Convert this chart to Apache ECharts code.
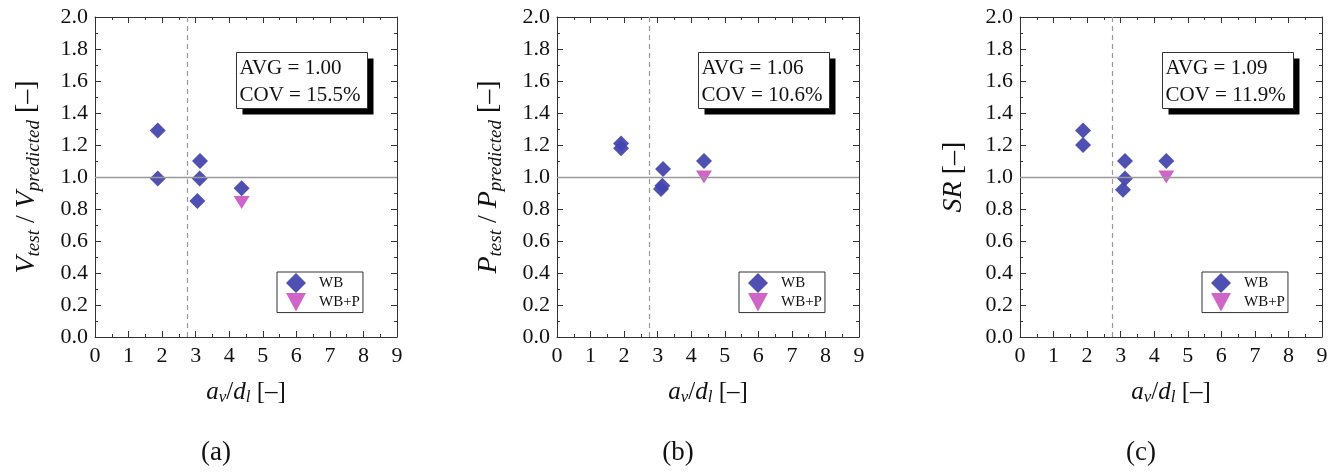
<!DOCTYPE html>
<html>
<head>
<meta charset="utf-8">
<script src="https://cdn.jsdelivr.net/npm/echarts@6/dist/echarts.min.js"></script>
<style>
html,body{margin:0;padding:0;background:#fff;}
#chart{width:1339px;height:474px;}
</style>
</head>
<body>
<div id="chart"></div>
<script>
// ---------- data ----------
const panelLabels = ['(a)', '(b)', '(c)'];
const seriesNames = ['WB', 'WB+P'];
const xRange = [0, 9];
const xInterval = 1;
const yRange = [0, 2];
const yInterval = 0.2;
const refLineY = 1.0;
const limitLineX = 2.75;

const wbA = [[1.87, 1.29], [1.87, 0.99], [3.13, 1.10], [3.12, 0.99], [3.05, 0.85], [4.37, 0.93]];
const wbpA = [[4.37, 0.84]];
const wbB = [[1.91, 1.21], [1.91, 1.18], [3.16, 1.05], [3.10, 0.925], [3.14, 0.945], [4.38, 1.10]];
const wbpB = [[4.38, 1.00]];
const wbC = [[1.88, 1.29], [1.88, 1.20], [3.13, 1.10], [3.13, 0.99], [3.07, 0.92], [4.36, 1.10]];
const wbpC = [[4.36, 1.00]];

const avgVals = ['1.00', '1.06', '1.09'];
const covVals = ['15.5%', '10.6%', '11.9%'];

// ---------- layout / style ----------
const FONT = 'Liberation Serif';
const gridLefts = [95, 557, 1020];
const gridWidth = 302;
const gridTop = 17;
const gridHeight = 320;
const statBoxX = [236, 698, 1162];
const legendLefts = [277, 739, 1202];
const labelCenters = [216, 678, 1141];
const blue = '#4244AC';
const pink = '#CC5EC4';
const triPath = 'path://M0,0L16,0L8,13Z';

const wbData = [wbA, wbB, wbC];
const wbpData = [wbpA, wbpB, wbpC];

const yNameRich = {
  m: {fontFamily: FONT, fontStyle: 'italic', fontSize: 28, color: '#111'},
  s: {fontFamily: FONT, fontStyle: 'italic', fontSize: 19, color: '#111', padding: [14, 0, 0, 0]},
  n: {fontFamily: FONT, fontSize: 28, color: '#111'}
};
const yNames = [
  '{m|V}{s|test}{n| / }{m|V}{s|predicted}{n| [–]}',
  '{m|P}{s|test}{n| / }{m|P}{s|predicted}{n| [–]}',
  '{m|SR}{n| [–]}'
];
const xNameRich = {
  m: {fontFamily: FONT, fontStyle: 'italic', fontSize: 25, color: '#111'},
  s: {fontFamily: FONT, fontStyle: 'italic', fontSize: 17, color: '#111', padding: [11, 0, 0, 0]},
  n: {fontFamily: FONT, fontSize: 25, color: '#111'}
};
const xName = '{m|a}{s|v}{n|/}{m|d}{s|l}{n| [–]}';

const axisLineStyle = {color: '#333', width: 1};

const grids = [], xAxes = [], yAxes = [], series = [], legends = [], graphics = [];

for (let i = 0; i < 3; i++) {
  grids.push({left: gridLefts[i], top: gridTop, width: gridWidth, height: gridHeight});
  const baseX = {
    type: 'value', gridIndex: i, min: xRange[0], max: xRange[1], interval: xInterval,
    axisLine: {show: true, onZero: false, lineStyle: axisLineStyle},
    axisTick: {show: true, inside: true, length: 6, lineStyle: axisLineStyle},
    minorTick: {show: true, splitNumber: 2, length: 3, lineStyle: axisLineStyle},
    splitLine: {show: false}
  };
  xAxes.push(Object.assign({}, baseX, {
    position: 'bottom',
    axisLabel: {show: true, fontFamily: FONT, fontSize: 22, color: '#111', margin: 8},
    name: xName, nameLocation: 'middle', nameGap: 41,
    nameTextStyle: {rich: xNameRich}
  }));
  xAxes.push(Object.assign({}, baseX, {position: 'top', axisLabel: {show: false}}));
  const baseY = {
    type: 'value', gridIndex: i, min: yRange[0], max: yRange[1], interval: yInterval,
    axisLine: {show: true, onZero: false, lineStyle: axisLineStyle},
    axisTick: {show: true, inside: true, length: 6, lineStyle: axisLineStyle},
    minorTick: {show: true, splitNumber: 2, length: 3, lineStyle: axisLineStyle},
    splitLine: {show: false}
  };
  yAxes.push(Object.assign({}, baseY, {
    position: 'left',
    axisLabel: {show: true, fontFamily: FONT, fontSize: 22, color: '#111', margin: 7,
      formatter: v => v.toFixed(1)},
    name: yNames[i], nameLocation: 'middle', nameRotate: 90, nameGap: 52,
    nameTextStyle: {rich: yNameRich}
  }));
  yAxes.push(Object.assign({}, baseY, {position: 'right', axisLabel: {show: false}}));

  const xi = i * 2, yi = i * 2;
  series.push({
    type: 'scatter', xAxisIndex: xi, yAxisIndex: yi, data: [], silent: true, z: 1,
    markLine: {
      silent: true, symbol: 'none', label: {show: false}, animation: false,
      data: [
        {yAxis: refLineY, lineStyle: {color: '#999', width: 1.3, type: 'solid'}},
        {xAxis: limitLineX, lineStyle: {color: '#999', width: 1.2, type: [5, 4]}}
      ]
    }
  });
  series.push({
    name: seriesNames[0], type: 'scatter', xAxisIndex: xi, yAxisIndex: yi, z: 3,
    symbol: 'diamond', symbolSize: 16, data: wbData[i],
    itemStyle: {color: blue, opacity: 0.93}
  });
  series.push({
    name: seriesNames[1], type: 'scatter', xAxisIndex: xi, yAxisIndex: yi, z: 3,
    symbol: triPath, symbolSize: [16, 13], data: wbpData[i],
    itemStyle: {color: pink, opacity: 0.95}
  });

  legends.push({
    data: [{name: seriesNames[0], icon: 'diamond'}, {name: seriesNames[1], icon: 'path://M0,0L14,0L7,13Z'}],
    orient: 'vertical', left: legendLefts[i], top: 272,
    itemWidth: 20, itemHeight: 20, itemGap: 0,
    padding: [1, 3, 1, 9],
    borderColor: '#333', borderWidth: 1, backgroundColor: '#fff',
    selectedMode: false,
    textStyle: {fontFamily: FONT, fontSize: 15, color: '#111', padding: [0, 0, 0, 8]}
  });

  // stat box with hard shadow
  graphics.push({
    type: 'group', left: statBoxX[i], top: 52, z: 10,
    children: [
      {type: 'rect', shape: {x: 6, y: 6, width: 131, height: 56}, style: {fill: '#000'}},
      {type: 'rect', shape: {x: 0, y: 0, width: 131, height: 56}, style: {fill: '#fff', stroke: '#333', lineWidth: 1}},
      {type: 'text', x: 3, y: 16, style: {text: 'AVG = ' + avgVals[i], font: '21px "Liberation Serif"', fill: '#111', verticalAlign: 'middle'}},
      {type: 'text', x: 3, y: 43, style: {text: 'COV = ' + covVals[i], font: '21px "Liberation Serif"', fill: '#111', verticalAlign: 'middle'}}
    ]
  });
  graphics.push({
    type: 'text', x: labelCenters[i], y: 453, z: 10,
    style: {text: panelLabels[i], font: '27px "Liberation Serif"', fill: '#111', align: 'center', verticalAlign: 'middle'}
  });
}

const chart = echarts.init(document.getElementById('chart'), null, {renderer: 'canvas'});
chart.setOption({
  animation: false,
  backgroundColor: '#fff',
  grid: grids,
  xAxis: xAxes,
  yAxis: yAxes,
  legend: legends,
  series: series,
  graphic: graphics
});
</script>
</body>
</html>
